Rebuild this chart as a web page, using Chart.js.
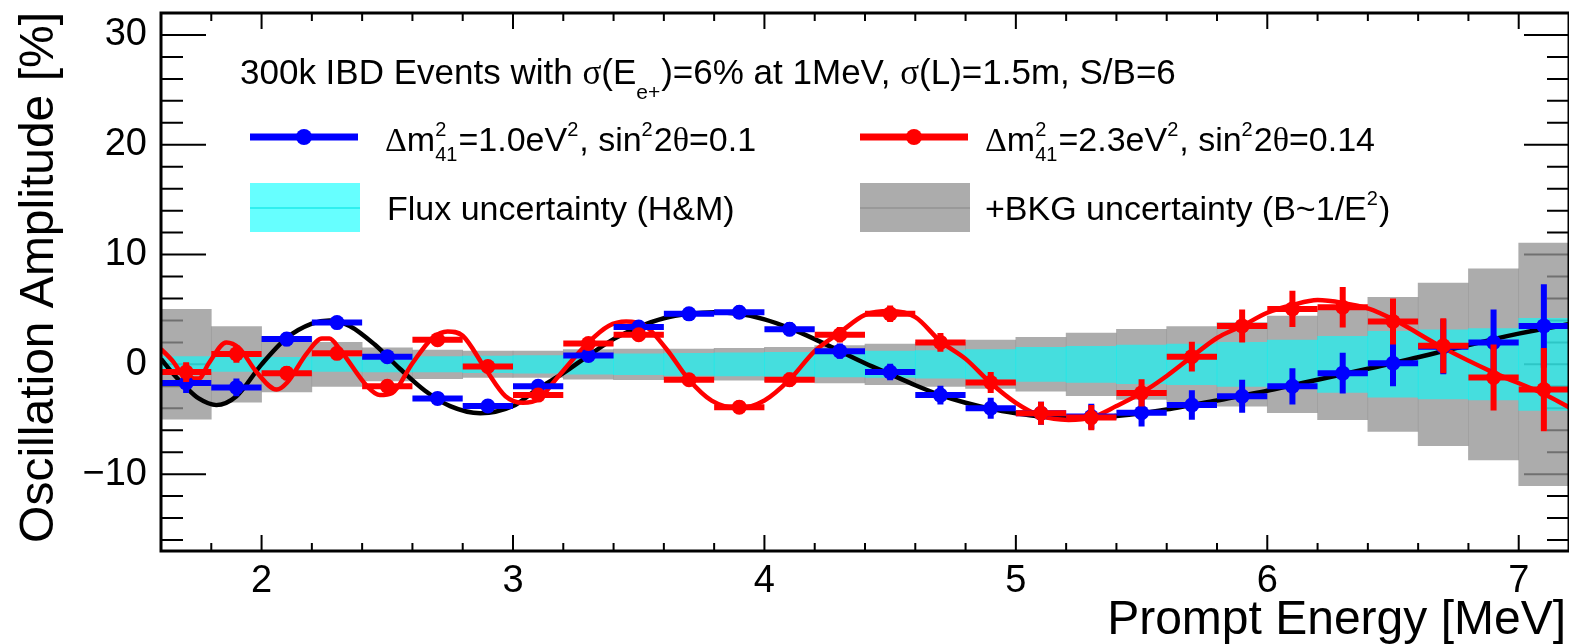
<!DOCTYPE html>
<html>
<head>
<meta charset="utf-8">
<script src="https://cdn.jsdelivr.net/npm/chart.js@4.4.0/dist/chart.umd.min.js"></script>
<style>
  html, body { margin: 0; padding: 0; background: #fff; overflow: hidden; }
  #wrap { width: 1569px; height: 644px; }
</style>
</head>
<body>
<div id="wrap"><canvas id="chart" width="1569" height="644"></canvas></div>
<script>
// bin centres (MeV), each bin is 0.2 MeV wide
const binCenters = [1.7, 1.9, 2.1, 2.3, 2.5, 2.7, 2.9, 3.1, 3.3, 3.5, 3.7, 3.9, 4.1, 4.3,
  4.5, 4.7, 4.9, 5.1, 5.3, 5.5, 5.7, 5.9, 6.1, 6.3, 6.5, 6.7, 6.9, 7.1];
const binHalfWidth = 0.1;

// dm2=1.0 eV2 points (blue) and dm2=2.3 eV2 points (red), in %
const blueValues = [-1.7, -2.1, 2.3, 3.8, 0.7, -3.1, -3.8, -2.0, 0.8, 3.4, 4.6, 4.75, 3.2, 1.2,
  -0.7, -2.8, -4.0, -4.45, -4.75, -4.4, -3.7, -2.9, -2.0, -0.8, 0.1, 1.6, 2.0, 3.5];
const redValues = [-0.7, 0.95, -0.8, 1.0, -2.0, 2.25, -0.2, -2.8, 1.9, 2.7, -1.4, -3.9, -1.4, 2.7,
  4.6, 2.0, -1.65, -4.45, -4.85, -2.6, 0.7, 3.5, 5.05, 5.2, 3.9, 1.7, -1.2, -2.3];
const statErr = [0.9, 0.8, 0.65, 0.55, 0.5, 0.5, 0.5, 0.5, 0.5, 0.55, 0.55, 0.6, 0.65, 0.7,
  0.75, 0.85, 0.95, 1.05, 1.15, 1.25, 1.35, 1.5, 1.65, 1.85, 2.1, 2.5, 3.0, 3.8];

// half widths of the uncertainty bands
const fluxErr = [0.7, 0.65, 0.65, 0.65, 0.7, 0.7, 0.75, 0.8, 0.9, 0.95, 1.0, 1.05, 1.1, 1.15,
  1.2, 1.25, 1.35, 1.55, 1.65, 1.75, 1.85, 2.0, 2.2, 2.55, 3.0, 3.15, 3.25, 4.2];
const bkgErr = [5.0, 3.45, 2.5, 2.0, 1.5, 1.3, 1.2, 1.2, 1.35, 1.4, 1.4, 1.45, 1.55, 1.7,
  1.85, 2.0, 2.2, 2.45, 2.85, 3.2, 3.45, 3.8, 4.4, 5.05, 6.1, 7.4, 8.7, 11.05];

// expected curves
const blackCurveE = [1.6, 1.65, 1.7, 1.75, 1.82, 1.9, 2.0, 2.1, 2.2, 2.27, 2.35, 2.45, 2.55, 2.65,
  2.75, 2.87, 3.0, 3.1, 3.2, 3.3, 3.4, 3.5, 3.6, 3.7, 3.8, 3.9, 4.0, 4.1, 4.2, 4.3, 4.4, 4.5,
  4.6, 4.7, 4.8, 4.9, 5.0, 5.1, 5.2, 5.3, 5.4, 5.5, 5.6, 5.7, 5.8, 5.9, 6.0, 6.1, 6.2, 6.3,
  6.4, 6.5, 6.6, 6.7, 6.8, 6.9, 7.0, 7.1, 7.2];
const blackCurveY = [0.5, -0.9, -2.1, -3.1, -3.7, -2.9, 0.0, 2.4, 3.7, 4.0, 3.5, 1.8, -0.4, -2.4,
  -3.8, -4.45, -3.8, -2.2, -0.8, 0.8, 2.3, 3.4, 4.2, 4.6, 4.75, 4.6, 4.1, 3.3, 2.3, 1.2, 0.1, -0.9,
  -1.9, -2.8, -3.5, -4.05, -4.45, -4.75, -4.9, -4.85, -4.7, -4.45, -4.1, -3.7, -3.3, -2.85, -2.4,
  -1.9, -1.4, -0.9, -0.4, 0.1, 0.65, 1.2, 1.75, 2.3, 2.8, 3.25, 3.65];
const redCurveE = [1.6, 1.65, 1.68, 1.75, 1.79, 1.86, 1.91, 1.98, 2.06, 2.1, 2.18, 2.24, 2.27, 2.31,
  2.42, 2.47, 2.52, 2.6, 2.68, 2.74, 2.8, 2.89, 2.97, 3.04, 3.1, 3.18, 3.3, 3.38, 3.45, 3.52,
  3.61, 3.7, 3.79, 3.9, 4.0, 4.1, 4.2, 4.3, 4.4, 4.5, 4.6, 4.7, 4.8, 4.9, 5.0, 5.1, 5.21, 5.3,
  5.4, 5.5, 5.6, 5.7, 5.8, 5.9, 6.0, 6.1, 6.2, 6.3, 6.4, 6.5, 6.7, 6.9, 7.1, 7.2];
const redCurveY = [1.4, 0.2, -0.75, -1.3, 0.1, 2.0, 1.5, -0.7, -2.3, -1.7, 1.0, 2.35, 2.35, 1.4,
  -2.0, -2.8, -2.6, 0.1, 2.4, 3.0, 2.6, -0.4, -2.9, -3.5, -3.2, -1.1, 2.0, 3.5, 3.9, 3.6,
  1.4, -1.4, -3.3, -4.0, -3.3, -1.4, 1.2, 2.9, 4.5, 4.85, 4.3, 2.1, 0.5, -1.7, -3.5, -4.7, -5.06, -4.85,
  -3.8, -2.6, -1.06, 0.7, 2.4, 3.5, 4.7, 5.4, 5.85, 5.6, 5.1, 4.1, 1.5, -0.75, -2.7, -3.9];

const xTickValues = [2, 3, 4, 5, 6, 7];
const yTickValues = [-10, 0, 10, 20, 30];

const SANS = '"Liberation Sans", Arial, Helvetica, sans-serif';
const SERIF = '"Liberation Serif", "DejaVu Serif", serif';
const BLUE = '#0000ff';
const RED = '#ff0000';
const GREY = 'rgba(146,146,146,0.765)';
const CYAN = 'rgba(0,255,255,0.6)';

const bkgBand = binCenters.map((x, i) => ({ x, y: [-bkgErr[i], bkgErr[i]] }));
const fluxBand = binCenters.map((x, i) => ({ x, y: [-fluxErr[i], fluxErr[i]] }));
const bluePoints = binCenters.map((x, i) => ({ x, y: blueValues[i] }));
const redPoints = binCenters.map((x, i) => ({ x, y: redValues[i] }));
const blackCurve = blackCurveE.map((x, i) => ({ x, y: blackCurveY[i] }));
const redCurve = redCurveE.map((x, i) => ({ x, y: redCurveY[i] }));

// text with Greek letters, superscripts and subscripts
function drawRich(ctx, x, y, parts, size) {
  parts.forEach(p => {
    if (p.sup !== undefined || p.sub !== undefined) {
      ctx.font = Math.round(size * 0.6) + 'px ' + SANS;
      let w = 0;
      if (p.sup !== undefined) {
        ctx.fillText(p.sup, x, y - size * 0.44);
        w = ctx.measureText(p.sup).width;
      }
      if (p.sub !== undefined) {
        ctx.fillText(p.sub, x, y + (p.dy || size * 0.3));
        w = Math.max(w, ctx.measureText(p.sub).width);
      }
      x += w + 1;
    } else {
      ctx.font = size + 'px ' + (p.g ? SERIF : SANS);
      ctx.fillText(p.t, x, y);
      x += ctx.measureText(p.t).width;
    }
  });
}

const errorBars = {
  id: 'errorBars',
  beforeDatasetDraw(chart, args) {
    const ds = chart.data.datasets[args.index];
    if (!ds.errors) return;
    const { ctx, chartArea: a, scales: { x, y } } = chart;
    ctx.save();
    ctx.beginPath();
    ctx.rect(a.left, a.top, a.right - a.left, a.bottom - a.top);
    ctx.clip();
    ctx.strokeStyle = ds.pointBackgroundColor;
    ctx.lineWidth = 6;
    ds.data.forEach((p, i) => {
      const px = x.getPixelForValue(p.x);
      const py = y.getPixelForValue(p.y);
      ctx.beginPath();
      ctx.moveTo(x.getPixelForValue(p.x - binHalfWidth), py);
      ctx.lineTo(x.getPixelForValue(p.x + binHalfWidth), py);
      ctx.moveTo(px, y.getPixelForValue(p.y + ds.errors[i]));
      ctx.lineTo(px, y.getPixelForValue(p.y - ds.errors[i]));
      ctx.stroke();
    });
    ctx.restore();
  }
};

const frameAndText = {
  id: 'frameAndText',
  beforeDatasetsDraw(chart) {
    const { ctx, chartArea: a, scales: { x, y } } = chart;
    ctx.save();
    ctx.strokeStyle = '#000';
    ctx.lineWidth = 2;
    ctx.beginPath();
    for (let v = 1.8; v <= 7.21; v += 0.2) {
      const major = Math.abs(v - Math.round(v)) < 0.01;
      const len = major ? 16 : 8;
      const px = x.getPixelForValue(v);
      ctx.moveTo(px, a.bottom); ctx.lineTo(px, a.bottom - len);
      ctx.moveTo(px, a.top); ctx.lineTo(px, a.top + len);
    }
    for (let v = -16; v <= 32; v += 2) {
      const major = v % 10 === 0;
      const len = major ? 45 : 22;
      const py = y.getPixelForValue(v);
      ctx.moveTo(a.left, py); ctx.lineTo(a.left + len, py);
      ctx.moveTo(a.right, py); ctx.lineTo(a.right - len, py);
    }
    ctx.stroke();
    ctx.restore();
  },
  afterDatasetsDraw(chart) {
    const { ctx, chartArea: a } = chart;
    ctx.save();
    ctx.strokeStyle = '#000';
    ctx.lineWidth = 3;
    ctx.strokeRect(a.left, a.top, a.right - a.left, a.bottom - a.top);
    ctx.restore();
  },
  afterDraw(chart) {
    const { ctx, chartArea: a } = chart;
    ctx.save();
    ctx.fillStyle = '#000';
    ctx.textBaseline = 'alphabetic';

    // axis titles
    ctx.font = '48px ' + SANS;
    ctx.textAlign = 'right';
    ctx.fillText('Prompt Energy [MeV]', a.right - 3, 634);
    ctx.save();
    ctx.translate(53, a.top - 1);
    ctx.rotate(-Math.PI / 2);
    ctx.fillText('Oscillation Amplitude [%]', 0, 0);
    ctx.restore();
    ctx.textAlign = 'left';

    // header line
    drawRich(ctx, 240, 84, [
      { t: '300k IBD Events with ' }, { t: 'σ', g: 1 }, { t: '(E' }, { sub: 'e+', dy: 15 },
      { t: ')=6% at 1MeV, ' }, { t: 'σ', g: 1 }, { t: '(L)=1.5m, S/B=6' }
    ], 35);

    // legend
    ctx.lineWidth = 7;
    [[250, 358, BLUE], [860, 968, RED]].forEach(([x0, x1, c]) => {
      ctx.strokeStyle = c;
      ctx.fillStyle = c;
      ctx.beginPath(); ctx.moveTo(x0, 137); ctx.lineTo(x1, 137); ctx.stroke();
      ctx.beginPath(); ctx.arc((x0 + x1) / 2, 137, 8, 0, Math.PI * 2); ctx.fill();
    });
    ctx.fillStyle = CYAN;
    ctx.fillRect(250, 183, 110, 49);
    ctx.fillStyle = GREY;
    ctx.fillRect(860, 183, 110, 49);
    ctx.lineWidth = 2;
    ctx.strokeStyle = '#2ef0f0';
    ctx.beginPath(); ctx.moveTo(250, 208); ctx.lineTo(360, 208); ctx.stroke();
    ctx.strokeStyle = '#999999';
    ctx.beginPath(); ctx.moveTo(860, 208); ctx.lineTo(970, 208); ctx.stroke();

    ctx.fillStyle = '#000';
    drawRich(ctx, 385, 151, [
      { t: 'Δ', g: 1 }, { t: 'm' }, { sup: '2', sub: '41' }, { t: '=1.0eV' }, { sup: '2' },
      { t: ', sin' }, { sup: '2' }, { t: '2' }, { t: 'θ', g: 1 }, { t: '=0.1' }
    ], 34);
    drawRich(ctx, 985, 151, [
      { t: 'Δ', g: 1 }, { t: 'm' }, { sup: '2', sub: '41' }, { t: '=2.3eV' }, { sup: '2' },
      { t: ', sin' }, { sup: '2' }, { t: '2' }, { t: 'θ', g: 1 }, { t: '=0.14' }
    ], 34);
    drawRich(ctx, 387, 220, [{ t: 'Flux uncertainty (H&M)' }], 34);
    drawRich(ctx, 985, 220, [{ t: '+BKG uncertainty (B~1/E' }, { sup: '2' }, { t: ')' }], 34);
    ctx.restore();
  }
};

const barStyle = { barPercentage: 1, categoryPercentage: 1, grouped: false, borderWidth: 0 };

new Chart(document.getElementById('chart'), {
  type: 'bar',
  data: {
    datasets: [
      { type: 'bar', data: bkgBand, backgroundColor: GREY, order: 6, ...barStyle },
      { type: 'bar', data: fluxBand, backgroundColor: CYAN, order: 5, ...barStyle },
      { type: 'line', data: blackCurve, borderColor: '#000', borderWidth: 4.5, pointRadius: 0,
        cubicInterpolationMode: 'monotone', order: 4 },
      { type: 'line', data: redCurve, borderColor: RED, borderWidth: 4.5, pointRadius: 0,
        cubicInterpolationMode: 'monotone', order: 3 },
      { type: 'line', data: bluePoints, showLine: false, pointRadius: 7.5, pointBorderWidth: 0,
        pointBackgroundColor: BLUE, errors: statErr, order: 2 },
      { type: 'line', data: redPoints, showLine: false, pointRadius: 7.5, pointBorderWidth: 0,
        pointBackgroundColor: RED, errors: statErr, order: 1 }
    ]
  },
  options: {
    responsive: false,
    animation: false,
    devicePixelRatio: 1,
    layout: { autoPadding: false, padding: { top: 13, right: 0, left: 0, bottom: 0 } },
    plugins: { legend: { display: false }, tooltip: { enabled: false } },
    scales: {
      x: {
        type: 'linear', min: 1.6, max: 7.2, offset: false,
        grid: { display: false }, border: { display: false },
        afterBuildTicks: s => { s.ticks = xTickValues.map(v => ({ value: v })); },
        afterFit: s => { s.height = 93; s.paddingLeft = 0; s.paddingRight = 0; },
        ticks: { color: '#000', font: { family: SANS, size: 38 }, padding: 0,
          maxRotation: 0, autoSkip: false }
      },
      y: {
        min: -17, max: 32,
        grid: { display: false }, border: { display: false },
        afterBuildTicks: s => { s.ticks = yTickValues.map(v => ({ value: v })); },
        afterFit: s => { s.width = 161; s.paddingTop = 0; s.paddingBottom = 0; },
        ticks: { color: '#000', font: { family: SANS, size: 38 }, padding: 6,
          callback: v => (v < 0 ? '\u2212' + Math.abs(v) : String(v)) }
      }
    }
  },
  plugins: [errorBars, frameAndText]
});
</script>
</body>
</html>
